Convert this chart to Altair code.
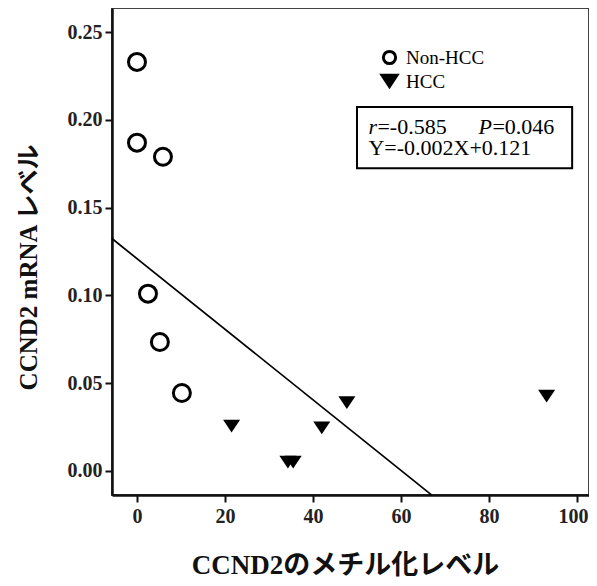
import altair as alt
import pandas as pd

groups = ["Non-HCC", "HCC"]
non_hcc_x = [0.0, 0.0, 5.9, 2.5, 5.2, 10.2]
non_hcc_y = [0.233, 0.187, 0.179, 0.101, 0.0735, 0.0444]
hcc_x = [21.5, 34.3, 35.5, 42.0, 47.7, 93.1]
hcc_y = [0.0256, 0.005, 0.005, 0.0245, 0.039, 0.0427]

fit_x = [-5.7, 67.0]
fit_y = [0.1324, -0.0137]

x_ticks = [0, 20, 40, 60, 80, 100]
y_ticks = [0.00, 0.05, 0.10, 0.15, 0.20, 0.25]
x_domain = [-5.68, 102.73]
y_domain = [-0.01367, 0.2637]

box_x = [50.0, 98.9]
box_y = [0.2073, 0.1725]
stat_r = "-0.585"
stat_p = "0.046"
equation = "Y=-0.002X+0.121"

non_df = pd.DataFrame({"x": non_hcc_x, "y": non_hcc_y, "group": groups[0]})
hcc_df = pd.DataFrame({"x": hcc_x, "y": hcc_y, "group": groups[1]})
fit = pd.DataFrame({"x": fit_x, "y": fit_y})

SERIF = "Liberation Serif, Times New Roman, Noto Sans CJK JP"
TRI = "M-1.67,-1.25L1.67,-1.25L0,1.25Z"

xs = alt.Scale(domain=x_domain, nice=False, zero=False)
ys = alt.Scale(domain=y_domain, nice=False, zero=False)

leg = alt.Legend(
    title=None, orient="none", legendX=268, legendY=40,
    labelFont=SERIF, labelFontSize=19, labelColor="black",
    symbolSize=150, symbolStrokeWidth=3, labelOffset=7, rowPadding=-3, padding=0,
)

shape_enc = alt.Shape("group:N", scale=alt.Scale(domain=groups, range=["circle", TRI]), legend=leg)
fill_enc = alt.Fill("group:N", scale=alt.Scale(domain=groups, range=["white", "black"]), legend=leg)
stroke_enc = alt.Stroke("group:N", scale=alt.Scale(domain=groups, range=["black", "transparent"]), legend=leg)

x_enc = alt.X("x:Q", scale=xs, axis=alt.Axis(
    values=x_ticks, title="CCND2のメチル化レベル", format="d",
    titleX=233, titleY=70, titleAlign="center", titleBaseline="middle",
    labelOffset={"condition": {"test": "datum.value === 100", "value": -4}, "value": 0},
))
y_enc = alt.Y("y:Q", scale=ys, axis=alt.Axis(
    values=y_ticks, title="CCND2 mRNA レベル", format=".2f",
    titleX=-84, titleY=259, titleAlign="center", titleBaseline="middle", titleAngle=-90,
))

circles = alt.Chart(non_df).mark_point(opacity=1, fillOpacity=1, strokeWidth=3, size=289).encode(
    x=x_enc, y=y_enc, shape=shape_enc, fill=fill_enc, stroke=stroke_enc,
)
triangles = alt.Chart(hcc_df).mark_point(opacity=1, fillOpacity=1, strokeWidth=3, size=104).encode(
    x=alt.X("x:Q", scale=xs), y=alt.Y("y:Q", scale=ys), shape=shape_enc, fill=fill_enc, stroke=stroke_enc,
)

line = alt.Chart(fit).mark_line(color="black", strokeWidth=1.7).encode(
    x=alt.X("x:Q", scale=xs), y=alt.Y("y:Q", scale=ys)
)

box_df = pd.DataFrame({"x": [box_x[0]], "x2": [box_x[1]], "y": [box_y[0]], "y2": [box_y[1]]})
box = alt.Chart(box_df).mark_rect(fill="white", stroke="black", strokeWidth=2).encode(
    x=alt.X("x:Q", scale=xs), x2="x2:Q", y=alt.Y("y:Q", scale=ys), y2="y2:Q"
)

line1_y = 0.1922
line2_y = 0.1798
ann_it = pd.DataFrame({"x": [52.6, 77.6], "y": [line1_y, line1_y], "t": ["r", "P"]})
ann_r = pd.DataFrame({"x": [52.6], "y": [line1_y], "t": ["=" + stat_r]})
ann_p = pd.DataFrame({"x": [77.6], "y": [line1_y], "t": ["=" + stat_p]})
ann_eq = pd.DataFrame({"x": [52.6], "y": [line2_y], "t": [equation]})

def txt(df, dx=0, style="normal"):
    return alt.Chart(df).mark_text(font=SERIF, fontSize=22, fontStyle=style, align="left", dx=dx,
                                   baseline="alphabetic", color="black").encode(
        x=alt.X("x:Q", scale=xs), y=alt.Y("y:Q", scale=ys), text="t:N")

t_it = txt(ann_it, 0, "italic")
t_r = txt(ann_r, 9)
t_p = txt(ann_p, 14)
t_eq = txt(ann_eq)

chart = alt.layer(line, circles, triangles, box, t_it, t_r, t_p, t_eq).properties(
    width=477, height=487,
    autosize=alt.AutoSizeParams(type="none"),
    padding={"left": 104, "top": 0, "right": 0, "bottom": 83},
    background="white",
).configure_view(
    stroke="#444", strokeWidth=2
).configure_axis(
    grid=False, domainColor="#111", domainWidth=2.5, tickColor="#111", tickWidth=2, tickSize=7,
    labelFont=SERIF, labelFontSize=20, labelFontWeight="bold", labelColor="#222", labelPadding=3,
    titleFont=SERIF, titleFontWeight="bold", titleColor="#111",
).configure_axisX(
    titleFontSize=27, labelPadding=4,
).configure_axisY(
    titleFontSize=25,
)

chart.save("out.html", embed_options={"renderer": "svg", "actions": False})
